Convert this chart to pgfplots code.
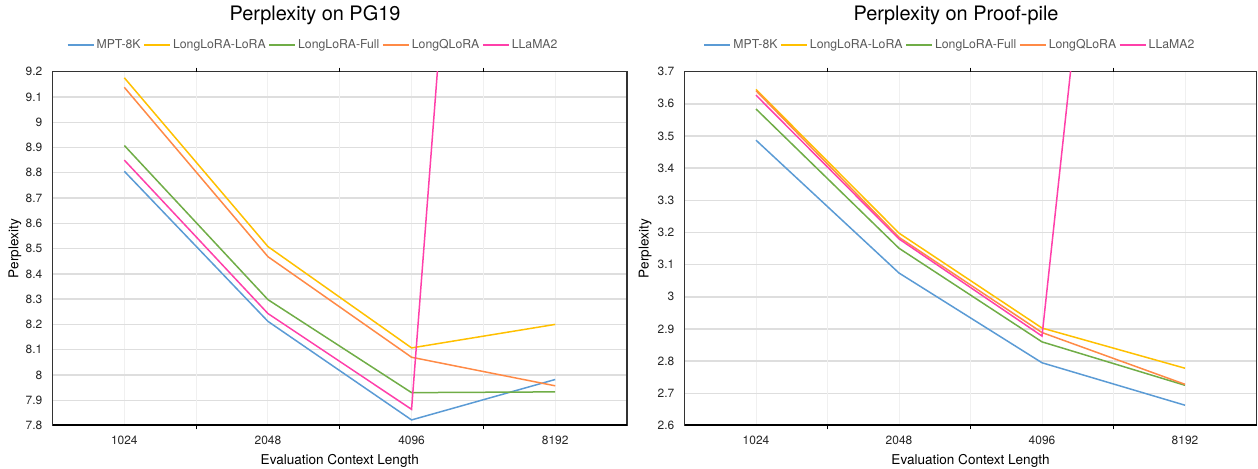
\documentclass[border=0pt]{standalone}
\usepackage{pgfplots}
\pgfplotsset{compat=1.18}
\usepackage{fontspec}
\setmainfont{TeX Gyre Heros}

\definecolor{cmpt}{RGB}{91,155,213}
\definecolor{clora}{RGB}{255,192,0}
\definecolor{cfull}{RGB}{112,173,71}
\definecolor{cqlora}{RGB}{255,138,70}
\definecolor{cllama}{RGB}{255,64,170}
\definecolor{legtext}{RGB}{89,89,89}

\pgfplotsset{
  panel/.style={
    scale only axis, width=574.5bp, height=353.8bp,
    xmin=-0.5, xmax=3.5,
    xtick={0,1,2,3}, xticklabels={1024,2048,4096,8192},
    extra x ticks={0.5,1.5,2.5}, extra x tick labels={},
    extra x tick style={major tick length=4bp, tick align=outside,
      tick style={draw=black, line width=1bp}, grid=major},
    major tick length=0pt,
    xmajorgrids, ymajorgrids,
    x grid style={draw=black!6, line width=1bp},
    y grid style={draw=black!13, line width=1.4bp},
    axis line style={draw=black!80, line width=1.1bp},
    after end axis/.code={\draw[black, line width=2bp] (rel axis cs:0,0) -- (rel axis cs:1,0);},
    tick label style={font=\fontsize{12}{14}\selectfont, text=black!85},
    /pgf/number format/assume math mode=true,
    xticklabel style={anchor=north, inner sep=0pt},
    xticklabel shift=10.5bp,
    yticklabel style={anchor=east, inner sep=0pt},
    yticklabel shift=10bp,
    xlabel={Evaluation Context Length},
    ylabel={Perplexity},
    label style={font=\fontsize{13.6}{15}\selectfont},
    xlabel style={at={(axis description cs:0.5,-0.099)}, anchor=center},
    every axis title shift=0pt,
    title style={font=\fontsize{20}{22}\selectfont, anchor=center},
    legend columns=5,
    legend image code/.code={\draw[#1, line width=2bp] (0bp,0bp) -- (26bp,0bp);},
    legend style={draw=none, fill=none, anchor=center,
      font=\fontsize{12.3}{14}\selectfont, text=legtext,
      /tikz/every even column/.append style={column sep=0.5bp},
      nodes={inner xsep=2bp, inner ysep=1bp}},
    every axis plot/.append style={line width=1.5bp, no markers},
  }
}

\begin{document}
\begin{tikzpicture}[x=1bp,y=1bp]
\path[use as bounding box] (0,0) rectangle (1258,469);

\begin{axis}[panel,
  at={(52.5bp,43.5bp)}, anchor=south west,
  ymin=7.8, ymax=9.2,
  ytick={7.8,7.9,8,8.1,8.2,8.3,8.4,8.5,8.6,8.7,8.8,8.9,9,9.1,9.2},
  title={Perplexity on PG19},
  title style={at={(axis description cs:0.457,1.160)}},
  ylabel style={at={(axis description cs:-0.0653,0.5)}, anchor=center},
  legend style={at={(axis description cs:0.4535,1.0755)}},
]
\addplot[cmpt] coordinates {(0,8.806) (1,8.212) (2,7.822) (3,7.982)};
\addlegendentry{MPT-8K}
\addplot[clora] coordinates {(0,9.176) (1,8.508) (2,8.107) (3,8.200)};
\addlegendentry{LongLoRA-LoRA}
\addplot[cfull] coordinates {(0,8.908) (1,8.298) (2,7.930) (3,7.933)};
\addlegendentry{LongLoRA-Full}
\addplot[cqlora] coordinates {(0,9.138) (1,8.468) (2,8.070) (3,7.957)};
\addlegendentry{LongQLoRA}
\addplot[cllama] coordinates {(0,8.850) (1,8.243) (2,7.864) (3,15.3)};
\addlegendentry{LLaMA2}
\end{axis}

\begin{axis}[panel,
  at={(684.5bp,43.5bp)}, anchor=south west, width=572bp,
  ymin=2.6, ymax=3.7,
  ytick={2.6,2.7,2.8,2.9,3,3.1,3.2,3.3,3.4,3.5,3.6,3.7},
  title={Perplexity on Proof-pile},
  title style={at={(axis description cs:0.4747,1.160)}},
  ylabel style={at={(axis description cs:-0.069,0.5)}, anchor=center},
  legend style={at={(axis description cs:0.464,1.0755)}},
]
\addplot[cmpt] coordinates {(0,3.487) (1,3.074) (2,2.795) (3,2.663)};
\addlegendentry{MPT-8K}
\addplot[clora] coordinates {(0,3.645) (1,3.198) (2,2.903) (3,2.778)};
\addlegendentry{LongLoRA-LoRA}
\addplot[cfull] coordinates {(0,3.584) (1,3.151) (2,2.860) (3,2.725)};
\addlegendentry{LongLoRA-Full}
\addplot[cqlora] coordinates {(0,3.641) (1,3.185) (2,2.889) (3,2.728)};
\addlegendentry{LongQLoRA}
\addplot[cllama] coordinates {(0,3.627) (1,3.180) (2,2.878) (3,7.0)};
\addlegendentry{LLaMA2}
\end{axis}
\end{tikzpicture}
\end{document}
